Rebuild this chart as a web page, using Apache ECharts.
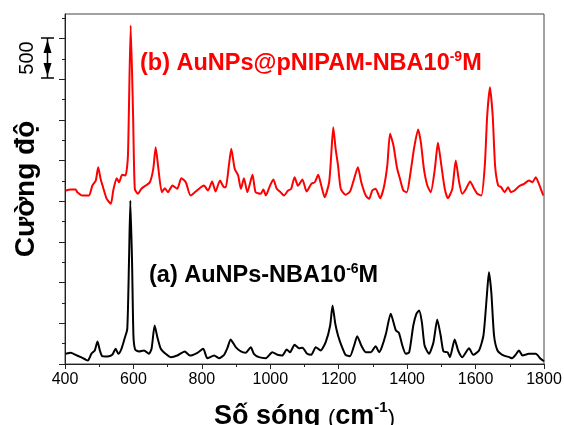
<!DOCTYPE html>
<html>
<head>
<meta charset="utf-8">
<script src="https://cdn.jsdelivr.net/npm/echarts@6/dist/echarts.min.js"></script>
<style>
html,body{margin:0;padding:0;background:#fff;}
#myChart{width:564px;height:425px;}
</style>
</head>
<body>
<div id="myChart"></div>
<script>
// (a) AuNPs-NBA 10^-6 M  (black)
var waveA = [402,417,431,446,460,467,477,487,495,502,509,524,538,548,556,565,574,582,587,591,596,600,605,616,631,645,653,662,670,680,694,709,728,750,765,787,804,816,836,850,865,875,884,899,914,928,943,952,967,987,1006,1021,1035,1048,1058,1071,1084,1094,1108,1120,1133,1147,1162,1175,1182,1190,1198,1208,1220,1233,1245,1254,1266,1279,1294,1308,1318,1326,1338,1352,1367,1376,1386,1396,1406,1418,1427,1435,1443,1451,1464,1477,1488,1498,1506,1518,1525,1539,1549,1561,1581,1593,1610,1623,1633,1639,1646,1654,1664,1678,1698,1707,1717,1727,1737,1756,1776,1790,1800];
var intensityA = [125,138,113,84,55,43,125,166,276,166,96,92,113,187,125,187,310,432,1250,2008,1250,350,178,154,166,125,187,473,329,187,125,84,104,154,104,138,187,71,104,71,113,200,301,207,154,138,207,125,84,71,145,113,104,178,145,236,194,199,125,113,207,166,268,473,719,494,350,227,113,96,227,342,227,145,145,219,145,207,371,617,412,383,227,125,145,473,617,657,514,227,125,268,547,350,154,145,84,301,166,84,194,113,166,350,842,1128,882,350,166,113,84,71,113,166,104,125,125,64,34];

// (b) AuNPs@pNIPAM-NBA 10^-9 M  (red)
var waveB = [402,417,431,436,451,470,480,490,497,504,512,522,534,541,551,558,567,577,584,592,599,604,613,623,636,648,658,665,673,683,692,701,714,728,740,753,767,782,797,806,818,830,840,853,865,870,879,886,896,906,914,923,933,948,957,972,980,987,999,1009,1019,1030,1040,1052,1061,1071,1081,1094,1106,1120,1130,1140,1149,1159,1172,1178,1184,1191,1198,1206,1220,1233,1245,1256,1266,1279,1289,1298,1308,1321,1332,1342,1350,1360,1370,1379,1389,1399,1410,1420,1432,1440,1449,1459,1469,1481,1490,1500,1510,1519,1532,1542,1552,1561,1571,1584,1596,1605,1617,1627,1634,1642,1650,1657,1666,1675,1685,1695,1703,1714,1727,1742,1756,1766,1776,1785,1798];
var intensityB = [2131,2144,2144,2111,2070,2070,2193,2254,2418,2275,2160,2029,1968,2131,2283,2233,2324,2316,2561,4158,3053,2152,2091,2152,2193,2233,2398,2664,2398,2111,2160,2111,2193,2152,2283,2233,2070,2119,2172,2193,2131,2242,2119,2254,2172,2172,2439,2644,2398,2316,2152,2283,2111,2324,2111,2091,2144,2070,2189,2267,2152,2111,2070,2131,2152,2295,2189,2267,2119,2214,2233,2324,2193,2049,2233,2561,2909,2644,2439,2152,2079,2119,2275,2418,2233,2070,2029,2131,2152,2037,2172,2439,2828,2684,2418,2275,2131,2111,2356,2644,2881,2725,2398,2193,2111,2398,2717,2439,2152,2037,2152,2500,2233,2091,2144,2242,2152,2091,2070,2439,3053,3401,3053,2439,2193,2172,2111,2172,2111,2131,2184,2214,2254,2233,2295,2214,2070];

var yMajorTicks = [0,500,1000,1500,2000,2500,3000,3500,4000];
var yMinorTicks = [250,750,1250,1750,2250,2750,3250,3750,4250];

function pairs(w, v){
    var out = [];
    for (var i = 0; i < w.length; i++) out.push([w[i], v[i]]);
    return out;
}

var font = 'Liberation Sans, Arial, sans-serif';
var myChart = echarts.init(document.getElementById('myChart'));
option = {
    animation: false,
    grid: {
        left: 65, right: 20, top: 14, bottom: 61,
        outerBoundsMode: 'none',
        containLabel: false,
        show: true,
        borderColor: '#444',
        borderWidth: 1
    },
    xAxis: {
        type: 'value',
        min: 400, max: 1800, interval: 200,
        axisLine: {show: true, lineStyle: {color: '#222', width: 1}},
        axisTick: {show: true, length: 5, lineStyle: {color: '#222'}},
        minorTick: {show: true, splitNumber: 2, length: 3, lineStyle: {color: '#222'}},
        splitLine: {show: false},
        axisLabel: {color: '#000', fontSize: 16, fontFamily: font, margin: 8,
            formatter: function (v) { return String(v); }},
        name: '{t|Số sóng }{p|(}{t|cm}{s|-1}{p|)}',
        nameLocation: 'middle',
        nameGap: 36,
        nameTextStyle: {
            rich: {
                t: {fontSize: 27, fontWeight: 'bold', fontFamily: font, color: '#000', lineHeight: 30, verticalAlign: 'bottom'},
                p: {fontSize: 22, fontFamily: font, color: '#000', lineHeight: 30, verticalAlign: 'bottom'},
                s: {fontSize: 15, fontWeight: 'bold', fontFamily: font, color: '#000', lineHeight: 16, verticalAlign: 'top'}
            }
        }
    },
    yAxis: [{
        type: 'value',
        min: 0, max: 4300,
        axisLine: {show: true, lineStyle: {color: '#222', width: 1}},
        axisTick: {show: true, length: 6, customValues: yMajorTicks, lineStyle: {color: '#222'}},
        axisLabel: {show: false},
        splitLine: {show: false},
        name: 'Cường độ',
        nameLocation: 'middle',
        nameRotate: 90,
        nameGap: 25,
        nameTextStyle: {fontSize: 28, fontWeight: 'bold', fontFamily: font, color: '#000'}
    }, {
        type: 'value',
        position: 'left',
        min: 0, max: 4300,
        axisLine: {show: false},
        axisTick: {show: true, length: 3, customValues: yMinorTicks, lineStyle: {color: '#222'}},
        axisLabel: {show: false},
        splitLine: {show: false}
    }],
    series: [{
        name: '(a)',
        type: 'line',
        data: pairs(waveA, intensityA),
        showSymbol: false,
        smooth: 0.2,
        lineStyle: {color: '#000', width: 2},
        z: 3
    }, {
        name: '(b)',
        type: 'line',
        data: pairs(waveB, intensityB),
        showSymbol: false,
        smooth: 0.2,
        lineStyle: {color: '#ff0000', width: 2},
        z: 4
    }],
    graphic: [
        // labels of the two spectra
        {
            type: 'text', x: 140, y: 63,
            style: {
                text: '{m|(b) AuNPs@pNIPAM-NBA10}{s|-9}{m|M}',
                verticalAlign: 'middle', align: 'left',
                rich: {
                    m: {fontSize: 23.5, fontWeight: 'bold', fontFamily: font, fill: '#ff0000', lineHeight: 26, verticalAlign: 'bottom'},
                    s: {fontSize: 14, fontWeight: 'bold', fontFamily: font, fill: '#ff0000', lineHeight: 14, verticalAlign: 'top'}
                }
            }
        },
        {
            type: 'text', x: 149, y: 275,
            style: {
                text: '{m|(a) AuNPs-NBA10}{s|-6}{m|M}',
                verticalAlign: 'middle', align: 'left',
                rich: {
                    m: {fontSize: 23.5, fontWeight: 'bold', fontFamily: font, fill: '#000', lineHeight: 26, verticalAlign: 'bottom'},
                    s: {fontSize: 14, fontWeight: 'bold', fontFamily: font, fill: '#000', lineHeight: 14, verticalAlign: 'top'}
                }
            }
        },
        // scale bar 500
        {type: 'line', shape: {x1: 47.5, y1: 38, x2: 47.5, y2: 78}, style: {stroke: '#000', lineWidth: 1.5}},
        {type: 'line', shape: {x1: 41, y1: 38, x2: 54, y2: 38}, style: {stroke: '#000', lineWidth: 1.5}},
        {type: 'line', shape: {x1: 41, y1: 78, x2: 54, y2: 78}, style: {stroke: '#000', lineWidth: 1.5}},
        {type: 'polygon', shape: {points: [[47.5, 40], [43.5, 53], [51.5, 53]]}, style: {fill: '#000'}},
        {type: 'polygon', shape: {points: [[47.5, 76], [43.5, 63], [51.5, 63]]}, style: {fill: '#000'}},
        {
            type: 'text', x: 27, y: 58, rotation: Math.PI / 2,
            style: {text: '500', fontSize: 20, fontFamily: font, fill: '#000', align: 'center', verticalAlign: 'middle'}
        }
    ]
};
myChart.setOption(option);
</script>
</body>
</html>
